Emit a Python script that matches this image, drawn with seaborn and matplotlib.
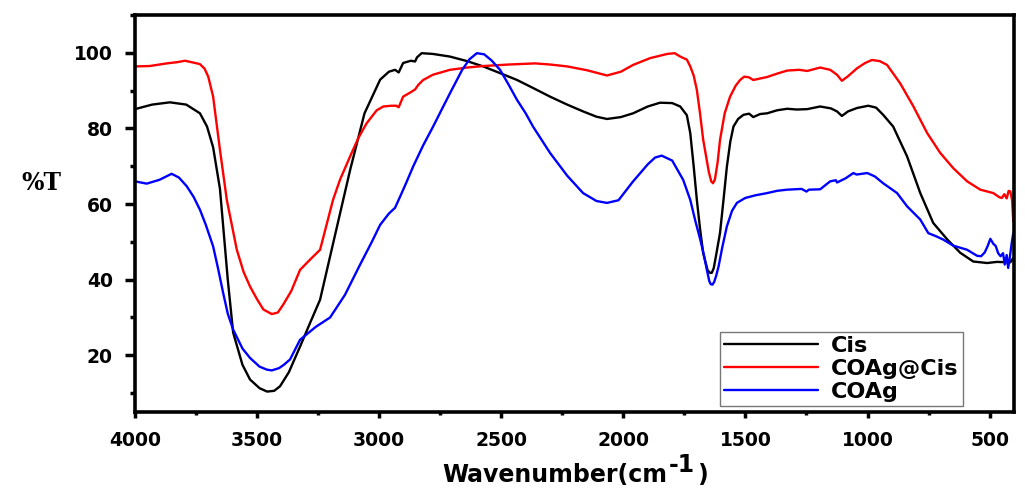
import numpy as np
import pandas as pd
import matplotlib
matplotlib.use("Agg")
import matplotlib.pyplot as plt
import seaborn as sns
from matplotlib.ticker import MultipleLocator

# ---- data (wavenumber cm^-1, %T) ----
cis_x = [4000, 3930, 3857, 3790, 3734, 3705, 3680, 3652, 3620, 3598, 3560, 3529, 3490, 3459, 3430, 3406,
         3370, 3324, 3280, 3242, 3180, 3119, 3060, 2996, 2960, 2935, 2920, 2902, 2870, 2853, 2845, 2826,
         2780, 2710, 2640, 2574, 2500, 2435, 2370, 2300, 2230, 2165, 2110, 2067, 2010, 1960, 1900, 1850,
         1800, 1767, 1740, 1726, 1712, 1699, 1686, 1673, 1655, 1645, 1638, 1630, 1620, 1604, 1590, 1576,
         1562, 1549, 1530, 1508, 1485, 1468, 1440, 1411, 1370, 1329, 1290, 1247, 1194, 1150, 1125, 1105,
         1080, 1043, 997, 965, 936, 895, 838, 784, 731, 673, 620, 567, 510, 470, 428, 415, 403]
cis_y = [85.1, 86.3, 86.9, 86.3, 84.0, 80.5, 75.0, 64.0, 40.0, 26.0, 17.5, 13.6, 11.3, 10.4, 10.6, 11.8,
         15.5, 22.3, 29.0, 34.7, 52.0, 69.0, 84.0, 92.9, 95.0, 95.5, 94.8, 97.3, 97.9, 97.7, 98.8, 99.9,
         99.7, 99.0, 97.8, 96.4, 94.5, 92.8, 90.7, 88.4, 86.3, 84.5, 83.1, 82.5, 83.0, 84.0, 85.8, 86.8,
         86.7, 85.8, 83.5, 78.8, 70.0, 61.1, 53.5, 47.0, 42.5, 41.8, 41.8, 43.0, 46.5, 52.4, 61.0, 69.9,
         76.5, 80.5, 82.5, 83.6, 83.9, 83.0, 83.8, 84.0, 84.8, 85.2, 85.0, 85.1, 85.8, 85.3, 84.5, 83.3,
         84.5, 85.4, 86.0, 85.5, 83.6, 80.5, 72.6, 62.9, 55.0, 50.6, 47.1, 44.8, 44.4, 44.7, 44.6, 44.6, 45.8]

coag_cis_x = [4000, 3940, 3870, 3830, 3795, 3760, 3734, 3715, 3700, 3680, 3652, 3624, 3583, 3555, 3529,
              3500, 3474, 3440, 3415, 3393, 3360, 3324, 3280, 3242, 3189, 3160, 3119, 3085, 3051, 3010,
              2983, 2950, 2930, 2920, 2902, 2870, 2853, 2840, 2820, 2780, 2710, 2640, 2574, 2470, 2361,
              2300, 2230, 2150, 2067, 2010, 1960, 1890, 1820, 1790, 1767, 1740, 1726, 1712, 1699, 1686,
              1673, 1650, 1640, 1633, 1625, 1614, 1604, 1585, 1563, 1540, 1522, 1505, 1485, 1468, 1440,
              1411, 1370, 1329, 1280, 1247, 1194, 1153, 1125, 1105, 1080, 1043, 1010, 982, 950, 920, 866,
              812, 756, 702, 649, 592, 538, 485, 460, 450, 440, 430, 422, 415, 408, 403]
coag_cis_y = [96.4, 96.5, 97.2, 97.5, 97.9, 97.4, 97.0, 95.8, 93.7, 88.4, 74.3, 61.1, 47.9, 42.0, 38.2,
              34.8, 32.1, 30.9, 31.3, 33.4, 37.0, 42.6, 45.5, 47.9, 61.1, 66.5, 72.6, 77.5, 81.4, 84.8,
              85.8, 86.0, 86.0, 85.6, 88.4, 89.6, 90.3, 91.5, 92.8, 94.2, 95.5, 96.1, 96.5, 96.9, 97.2,
              96.9, 96.4, 95.4, 94.0, 95.0, 96.8, 98.6, 99.7, 99.9, 99.0, 98.2, 96.4, 94.0, 90.2, 84.0,
              77.0, 68.5, 66.0, 65.5, 66.5, 71.0, 77.0, 84.0, 88.4, 91.3, 92.8, 93.7, 93.5, 92.8, 93.2,
              93.6, 94.5, 95.3, 95.5, 95.2, 96.1, 95.5, 94.2, 92.6, 93.8, 95.9, 97.3, 98.1, 97.8, 96.8, 91.9,
              85.8, 78.8, 73.5, 69.5, 66.0, 63.8, 62.9, 61.8, 61.6, 62.6, 61.5, 63.5, 63.3, 61.0, 55.4]

coag_x = [4000, 3952, 3900, 3850, 3820, 3788, 3760, 3734, 3710, 3680, 3660, 3639, 3620, 3598, 3560,
          3529, 3490, 3460, 3440, 3410, 3390, 3365, 3324, 3260, 3201, 3140, 3078, 3030, 2996, 2960,
          2935, 2914, 2890, 2861, 2820, 2779, 2740, 2710, 2660, 2630, 2600, 2570, 2540, 2505, 2470,
          2436, 2400, 2370, 2300, 2230, 2165, 2110, 2067, 2020, 1960, 1900, 1870, 1843, 1800, 1755,
          1726, 1705, 1685, 1670, 1658, 1648, 1642, 1635, 1628, 1620, 1610, 1595, 1576, 1555, 1535,
          1501, 1460, 1411, 1370, 1329, 1270, 1250, 1240, 1194, 1153, 1130, 1125, 1090, 1058, 1045,
          1001, 970, 936, 879, 838, 784, 751, 720, 690, 649, 592, 551, 535, 520, 508, 497, 485, 475,
          465, 455, 445, 438, 430, 424, 418, 410, 403]
coag_y = [66.0, 65.4, 66.4, 68.0, 67.0, 64.7, 61.9, 58.5, 54.5, 48.8, 43.0, 36.5, 31.0, 26.8, 21.8,
          19.3, 17.0, 16.2, 16.0, 16.6, 17.5, 18.9, 24.1, 27.5, 30.0, 36.0, 44.0, 50.0, 54.5, 57.5,
          59.0, 62.0, 65.5, 69.9, 75.5, 80.5, 85.5, 89.3, 95.5, 98.3, 99.9, 99.6, 98.0, 95.5, 91.6,
          87.6, 84.0, 80.5, 73.5, 67.5, 62.9, 60.8, 60.3, 61.0, 66.0, 70.5, 72.3, 72.8, 71.5, 66.4,
          61.1, 55.5, 50.6, 46.5, 42.6, 39.6, 38.8, 38.7, 39.4, 41.0, 43.5, 48.5, 54.1, 58.2, 60.3,
          61.6, 62.3, 62.9, 63.5, 63.8, 64.0, 63.3, 63.8, 63.9, 66.0, 66.3, 65.7, 66.8, 68.2, 67.8,
          68.2, 67.3, 65.5, 62.9, 59.4, 55.9, 52.3, 51.5, 50.6, 49.0, 47.9, 46.3, 46.2, 47.2, 48.9,
          50.8, 49.5, 48.9, 47.0, 46.2, 47.0, 44.0, 46.5, 43.1, 45.5, 49.5, 52.3]

labels = ["Cis", "COAg@Cis", "COAg"]
colors = ["#000000", "#ff0000", "#0000ff"]
x_ticks = [4000, 3500, 3000, 2500, 2000, 1500, 1000, 500]
y_ticks = [20, 40, 60, 80, 100]
x_title = "Wavenumber(cm"
x_title_sup = "-1"
y_title = "%T"

df = pd.concat([
    pd.DataFrame({"wn": cis_x, "T": cis_y, "sample": labels[0]}),
    pd.DataFrame({"wn": coag_cis_x, "T": coag_cis_y, "sample": labels[1]}),
    pd.DataFrame({"wn": coag_x, "T": coag_y, "sample": labels[2]}),
])

sns.set_style("ticks")
plt.rcParams["font.family"] = ["DejaVu Sans"]
for key in ["text.color", "axes.labelcolor", "xtick.color", "ytick.color",
            "xtick.labelcolor", "ytick.labelcolor", "axes.edgecolor"]:
    plt.rcParams[key] = "black"

fig = plt.figure(figsize=(10.25, 4.9), dpi=100)
ax = fig.add_axes([0.1317, 0.1592, 0.8576, 0.8102])

sns.lineplot(data=df, x="wn", y="T", hue="sample", palette=dict(zip(labels, colors)),
             hue_order=labels, estimator=None, sort=True, linewidth=1.7, ax=ax)

ax.set_xlim(4000, 400)
ax.set_ylim(5, 110)
ax.set_xticks(x_ticks)
ax.set_yticks(y_ticks)
ax.xaxis.set_minor_locator(MultipleLocator(250))
ax.yaxis.set_minor_locator(MultipleLocator(10))
ax.tick_params(axis="y", which="major", direction="out", length=7, width=2.5, labelsize=13.5, pad=9,
               colors="black")
ax.tick_params(axis="y", which="minor", direction="out", length=3.5, width=2.5, colors="black")
ax.tick_params(axis="x", which="major", direction="out", length=4.5, width=2.5, labelsize=13.5, pad=9,
               colors="black")
ax.tick_params(axis="x", which="minor", direction="out", length=2, width=2.5, colors="black")
for lab in ax.get_xticklabels() + ax.get_yticklabels():
    lab.set_fontweight("bold")
for sp in ax.spines.values():
    sp.set_visible(True)
    sp.set_linewidth(2.6)
    sp.set_color("black")

ax.set_ylabel("")
ax.set_xlabel("")
fig.text(0.040, 0.626, y_title, fontsize=17, fontweight="bold",
         family=["DejaVu Serif"], ha="center", va="center", color="black")

# x title with full-size raised superscript
fig.canvas.draw()
r = fig.canvas.get_renderer()
yb = 8.0 / 490
t1 = fig.text(0, yb, x_title, fontsize=17, fontweight="bold", ha="left", va="baseline", color="black")
t2 = fig.text(0, yb + 10.0 / 490, x_title_sup, fontsize=17, fontweight="bold", ha="left",
              va="baseline", color="black")
t3 = fig.text(0, yb, ")", fontsize=17, fontweight="bold", ha="left", va="baseline", color="black")
w1 = t1.get_window_extent(r).width
w2 = t2.get_window_extent(r).width
w3 = t3.get_window_extent(r).width
total = w1 + w2 + w3 + 3
x0 = 575 - total / 2
t1.set_x(x0 / 1025)
t2.set_x((x0 + w1 + 1) / 1025)
t3.set_x((x0 + w1 + w2 + 3) / 1025)

leg = ax.legend(loc="lower right", bbox_to_anchor=(0.942, 0.015), frameon=True, fancybox=False,
                edgecolor="#555555", fontsize=16, handlelength=4.2, handletextpad=0.6,
                labelspacing=0.12, borderpad=0.2, borderaxespad=0)
leg.get_frame().set_linewidth(1.0)
for t in leg.get_texts():
    t.set_fontweight("bold")
    t.set_color("black")
for l in leg.get_lines():
    l.set_linewidth(1.7)

fig.savefig("out.png", dpi=100)
